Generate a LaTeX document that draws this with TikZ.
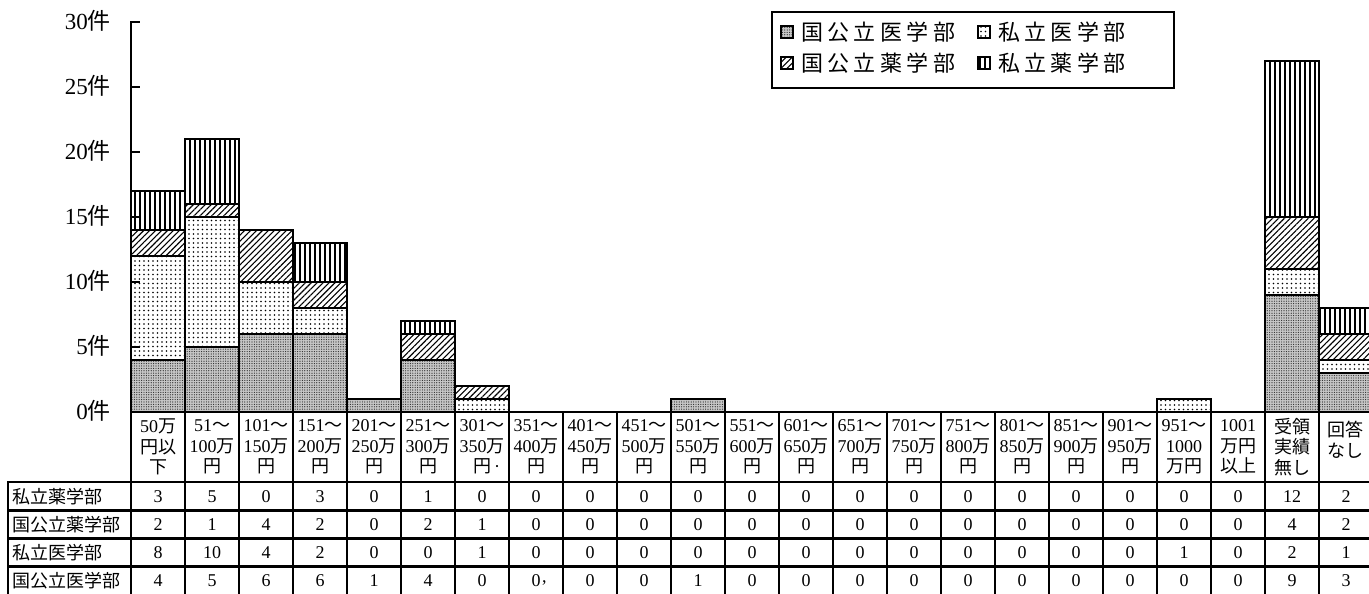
\documentclass[tikz,border=0pt]{standalone}
\usepackage{fontspec}
\setmainfont{Liberation Serif}
\newfontfamily\jp{Noto Sans CJK JP}
\newfontfamily\jpsp[LetterSpace=20]{Noto Sans CJK JP}
\usetikzlibrary{patterns,patterns.meta}
\tikzset{
  seg/.style={draw=black,line width=2.5pt},
  natmed/.style={seg,preaction={fill=gray!45},pattern={Dots[distance=2.4pt,radius=0.6pt]},pattern color=black!85},
  privmed/.style={seg,pattern={Dots[distance=4.5pt,radius=0.8pt]},pattern color=black},
  natpha/.style={seg,pattern={Lines[angle=45,distance=4.2pt,line width=1.1pt]},pattern color=black},
  privpha/.style={seg,pattern={Lines[angle=90,distance=5pt,line width=1.2pt]},pattern color=black},
  tblline/.style={line width=2.4pt,line cap=rect},
  hdr/.style={align=center,inner sep=0pt,font=\fontsize{18}{20.5}\selectfont},
  datnum/.style={inner sep=0pt,font=\fontsize{18}{18}\selectfont},
  rowlab/.style={anchor=west,inner sep=0pt,font=\fontsize{18}{18}\selectfont\jp},
  ylab/.style={anchor=east,inner sep=0pt,font=\fontsize{23}{23}\selectfont},
  leg/.style={anchor=west,inner sep=0pt,font=\fontsize{22}{22}\selectfont\jpsp},
  legbox/.style={line width=2.4pt},
}
\begin{document}
\begin{tikzpicture}[x=1pt,y=-1pt]
\fill[white] (0,0) rectangle (1369,594);
\useasboundingbox (0,0) rectangle (1369,594);
% bars and data
\foreach \i/\va/\vb/\vc/\vd in {1/3/2/8/4,2/5/1/10/5,3/0/4/4/6,4/3/2/2/6,5/0/0/0/1,6/1/2/0/4,7/0/1/1/0,8/0/0/0/0,9/0/0/0/0,10/0/0/0/0,11/0/0/0/1,12/0/0/0/0,13/0/0/0/0,14/0/0/0/0,15/0/0/0/0,16/0/0/0/0,17/0/0/0/0,18/0/0/0/0,19/0/0/0/0,20/0/0/1/0,21/0/0/0/0,22/12/4/2/9,23/2/2/1/3}{
  \pgfmathsetmacro\xl{131+54*(\i-1)}
  \pgfmathsetmacro\xr{\xl+54}
  \pgfmathsetmacro\ya{412-13*\vd}
  \pgfmathsetmacro\yb{\ya-13*\vc}
  \pgfmathsetmacro\yc{\yb-13*\vb}
  \pgfmathsetmacro\yd{\yc-13*\va}
  \ifnum\vd>0 \path[natmed] (\xl,412) rectangle (\xr,\ya);\fi
  \ifnum\vc>0 \path[privmed] (\xl,\ya) rectangle (\xr,\yb);\fi
  \ifnum\vb>0 \path[natpha] (\xl,\yb) rectangle (\xr,\yc);\fi
  \ifnum\va>0 \path[privpha] (\xl,\yc) rectangle (\xr,\yd);\fi
  \node[datnum] (a\i) at ({104+54*\i},496.5) {\va};
  \node[datnum] (b\i) at ({104+54*\i},524.5) {\vb};
  \node[datnum] (c\i) at ({104+54*\i},552.5) {\vc};
  \node[datnum] (d\i) at ({104+54*\i},580.5) {\vd};
}
\node[datnum,anchor=west] (d8comma) at (542,583) {,};
% y axis
\draw[line width=2.4pt] (131,22) -- (131,412);
\foreach \k in {1,...,6}{\draw[tblline] (131,{412-65*\k}) -- (139,{412-65*\k});}
\foreach \k/\lab in {0/0,1/5,2/10,3/15,4/20,5/25,6/30}{
  \node[ylab] (y\k) at (111,{411-65*\k}) {\lab{\jp 件}};
}
% table grid
\draw[tblline] (131,412) -- (1373,412);
\foreach \y in {482,510.5,538.5,566.5}{\draw[tblline] (8,\y) -- (1373,\y);}
\foreach \k in {0,...,23}{\draw[tblline] ({131+54*\k},412) -- ({131+54*\k},594);}
\draw[tblline] (8,482) -- (8,594);
% header
\node[hdr] (h1) at (158,447) {50{\jp 万}\\{\jp 円以}\\{\jp 下}};
\foreach \i/\p/\q in {2/51/100,3/101/150,4/151/200,5/201/250,6/251/300,8/351/400,9/401/450,10/451/500,11/501/550,12/551/600,13/601/650,14/651/700,15/701/750,16/751/800,17/801/850,18/851/900,19/901/950}{
  \node[hdr] (h\i) at ({104+54*\i},447) {\p{\jp ～}\\\q{\jp 万}\\{\jp 円}};
}
\node[hdr] (h7) at (482,447) {301{\jp ～}\\350{\jp 万}\\{\jp 円}\rlap{\,·}};
\node[hdr] (h20) at (1184,447) {951{\jp ～}\\1000\\{\jp 万円}};
\node[hdr] (h21) at (1238,447) {1001\\{\jp 万円}\\{\jp 以上}};
\node[hdr] (h22) at (1292,447) {{\jp 受領}\\{\jp 実績}\\{\jp 無し}};
\node[hdr] (h23) at (1345,440) {{\jp 回答}\\{\jp なし}};
% row labels
\node[rowlab] (r1) at (12,496.5) {私立薬学部};
\node[rowlab] (r2) at (12,524.5) {国公立薬学部};
\node[rowlab] (r3) at (12,552.5) {私立医学部};
\node[rowlab] (r4) at (12,580.5) {国公立医学部};
% legend
\draw[legbox] (772,12) rectangle (1174,88);
\path[natmed,line width=1.8pt] (781,26) rectangle (793,38);
\path[privmed,line width=1.8pt] (978,26) rectangle (990,38);
\path[natpha,line width=1.8pt] (781,57) rectangle (793,69);
\path[privpha,line width=1.8pt] (978,57) rectangle (990,69);
\node[leg] (l1) at (801,32) {国公立医学部};
\node[leg] (l2) at (998,32) {私立医学部};
\node[leg] (l3) at (801,63) {国公立薬学部};
\node[leg] (l4) at (998,63) {私立薬学部};
\end{tikzpicture}
\end{document}
